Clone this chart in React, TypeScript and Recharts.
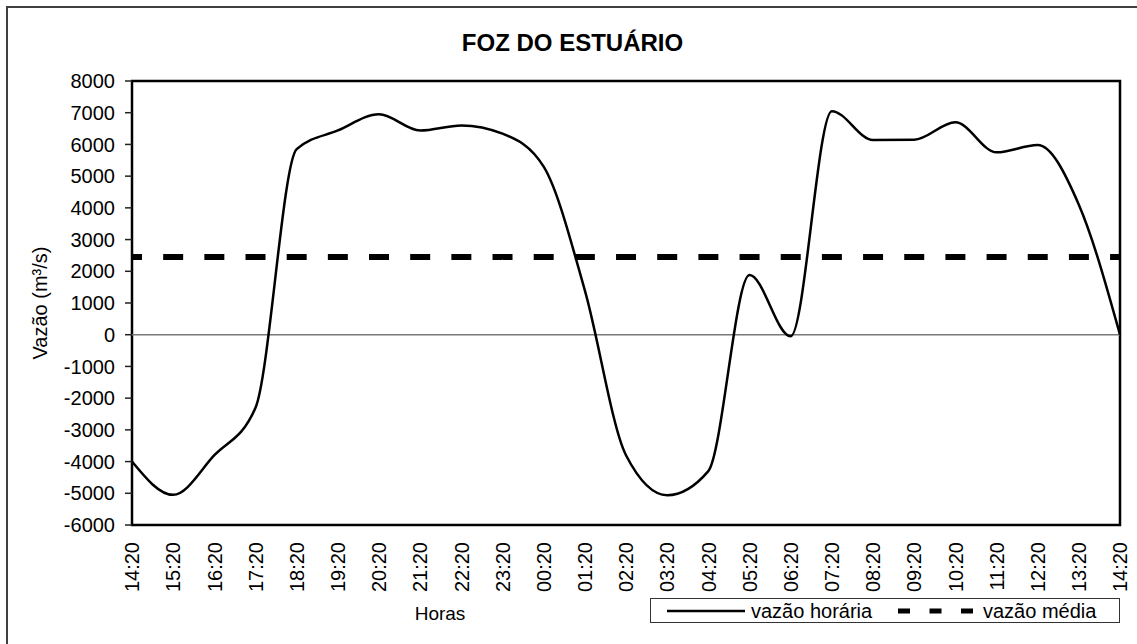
import React from 'react';
import {
  LineChart,
  Line,
  XAxis,
  YAxis,
  ReferenceLine,
  ReferenceArea,
} from 'recharts';

// hourly labels along the x axis (one day, 14:20 to 14:20)
const horas = [
  '14:20', '15:20', '16:20', '17:20', '18:20', '19:20', '20:20', '21:20',
  '22:20', '23:20', '00:20', '01:20', '02:20', '03:20', '04:20', '05:20',
  '06:20', '07:20', '08:20', '09:20', '10:20', '11:20', '12:20', '13:20',
  '14:20',
];

// vazão horária (m3/s)
const vazaoHoraria = [
  -4000, -5050, -3800, -2300, 5850, 6440, 6950, 6440,
  6600, 6340, 5300, 1400, -3800, -5060, -4300, 1880,
  -50, 7050, 6140, 6150, 6700, 5750, 5980, 4100,
  0,
];

// vazão média (m3/s)
const vazaoMedia = 2450;

const yTicks = [
  -6000, -5000, -4000, -3000, -2000, -1000, 0, 1000, 2000, 3000, 4000, 5000,
  6000, 7000, 8000,
];

const FONT = '"Liberation Sans", Arial, Helvetica, sans-serif';

const data = horas.map((hora, i) => ({
  t: i,
  hora,
  horaria: vazaoHoraria[i],
  media: vazaoMedia,
}));

const HourTick = (props: any) => {
  const { x, y, payload } = props;
  return (
    <text
      x={0}
      y={0}
      dy="0.36em"
      transform={`translate(${x},${y + 17}) rotate(-90)`}
      textAnchor="end"
      fontSize={20}
      fill="#000"
      fontFamily={FONT}
    >
      {horas[payload.value]}
    </text>
  );
};

const LegendBox = () => (
  <div
    style={{
      position: 'absolute',
      left: 650,
      top: 598,
      width: 468,
      height: 23,
      border: '1.5px solid #333',
      background: '#fff',
      fontFamily: FONT,
      fontSize: 20,
      color: '#000',
    }}
  >
    <svg width={468} height={23} style={{ position: 'absolute', left: 0, top: 0 }}>
      <line x1={16} x2={94} y1={12} y2={12} stroke="#000" strokeWidth={2.5} />
      <text x={100} y={19} fontSize={20} fontFamily={FONT}>
        vazão horária
      </text>
      <line
        x1={247}
        x2={322}
        y1={12}
        y2={12}
        stroke="#000"
        strokeWidth={5}
        strokeDasharray="12 19.5"
      />
      <text x={332} y={19} fontSize={20} fontFamily={FONT}>
        vazão média
      </text>
    </svg>
  </div>
);

export default function App() {
  return (
    <div
      style={{
        position: 'fixed',
        left: 0,
        top: 0,
        width: 1137,
        height: 644,
        overflow: 'hidden',
        background: '#fff',
        fontFamily: FONT,
      }}
    >
      {/* outer chart frame */}
      <div
        style={{
          position: 'absolute',
          left: 6,
          top: 6,
          width: 1200,
          height: 700,
          border: '2px solid #404040',
        }}
      />

      <div
        style={{
          position: 'absolute',
          left: 0,
          top: 31,
          width: 1137,
          textAlign: 'center',
          fontSize: 24,
          lineHeight: '24px',
          fontWeight: 'bold',
          color: '#000',
          paddingLeft: 4,
        }}
      >
        FOZ DO ESTUÁRIO
      </div>

      <div
        style={{
          position: 'absolute',
          left: 40,
          top: 303,
          transform: 'translate(-50%, -50%) rotate(-90deg)',
          whiteSpace: 'nowrap',
          fontSize: 20,
          lineHeight: '20px',
          color: '#000',
        }}
      >
        Vazão (m³/s)
      </div>

      <div
        style={{
          position: 'absolute',
          left: 440,
          top: 604,
          transform: 'translateX(-50%)',
          fontSize: 19,
          lineHeight: '19px',
          color: '#000',
        }}
      >
        Horas
      </div>

      <div style={{ position: 'absolute', left: 0, top: 0 }}>
        <LineChart
          width={1137}
          height={644}
          data={data}
          margin={{ top: 81, right: 17, bottom: 59, left: 60 }}
          style={{ fontFamily: FONT }}
        >
          <XAxis
            dataKey="t"
            type="number"
            domain={[0, 24]}
            ticks={data.map((d) => d.t)}
            interval={0}
            height={60}
            axisLine={false}
            tickLine={false}
            tickSize={0}
            tickMargin={0}
            tick={<HourTick />}
          />
          <YAxis
            type="number"
            domain={[-6000, 8000]}
            ticks={yTicks}
            interval={0}
            width={72}
            axisLine={false}
            tickLine={{ stroke: '#222', strokeWidth: 1.5 }}
            tickSize={7}
            tickMargin={10}
            tick={{ fontSize: 20, fill: '#000', fontFamily: FONT }}
          />
          <ReferenceLine y={0} stroke="#777" strokeWidth={1.5} />
          <Line
            type="linear"
            dataKey="media"
            stroke="#000"
            strokeWidth={6}
            strokeDasharray="10 21.17 10 0"
            dot={false}
            activeDot={false}
            isAnimationActive={false}
          />
          <Line
            type="monotone"
            dataKey="horaria"
            stroke="#000"
            strokeWidth={2.5}
            dot={false}
            activeDot={false}
            isAnimationActive={false}
          />
          <ReferenceArea
            x1={0}
            x2={24}
            y1={-6000}
            y2={8000}
            fill="none"
            fillOpacity={0}
            stroke="#000"
            strokeWidth={2.5}
          />
        </LineChart>
      </div>

      <LegendBox />
    </div>
  );
}
